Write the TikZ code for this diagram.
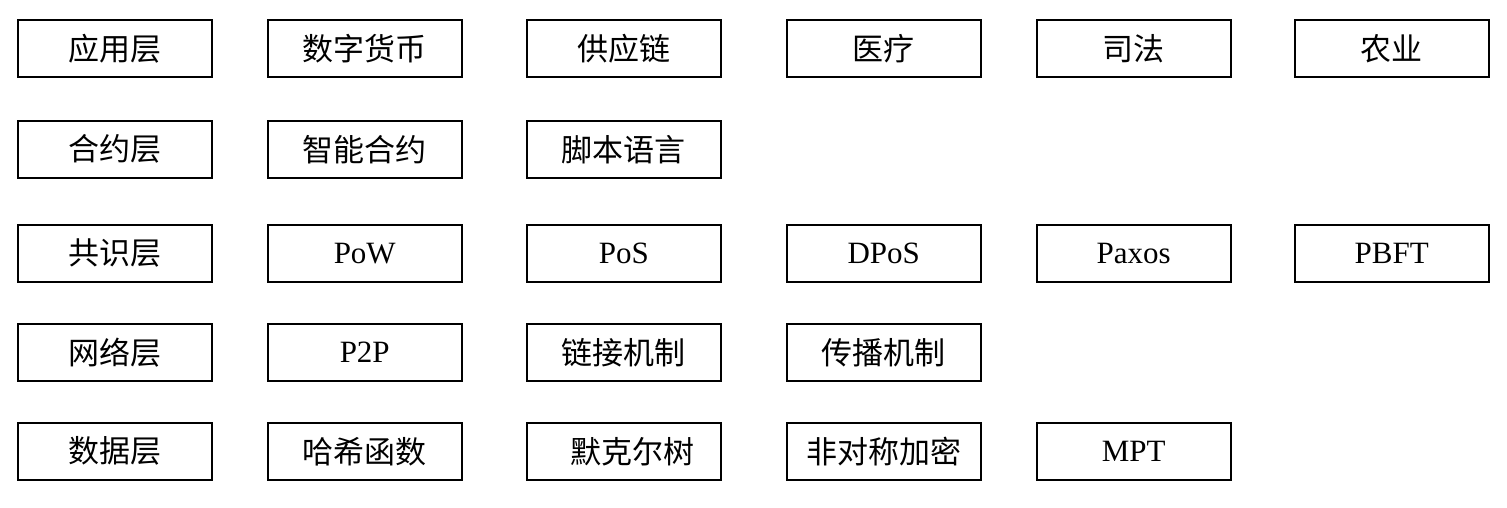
\documentclass[tikz,border=0pt]{standalone}
\usepackage{fontspec}
\setmainfont{Liberation Serif}
\newfontfamily\cjk{Noto Sans CJK SC}
\begin{document}
\begin{tikzpicture}[x=1pt,y=-1pt,
  cell/.style={draw,line width=1.5pt,minimum width=194pt,minimum height=57pt,anchor=north west,inner sep=0pt,font=\fontsize{31}{34}\selectfont}]
\useasboundingbox (0,0) rectangle (1507,507);
\def\cx{{17,267,526,786,1036,1294}}
\def\ry{{19,120,224,323,422}}
\newcommand\cellat[4]{\pgfmathsetmacro\xx{\cx[#2]}\pgfmathsetmacro\yy{\ry[#1]}\node[cell] (#3) at (\xx,\yy) {#4};}
\cellat{0}{0}{a0}{\cjk 应用层}
\cellat{0}{1}{a1}{\cjk 数字货币}
\cellat{0}{2}{a2}{\cjk 供应链}
\cellat{0}{3}{a3}{\cjk 医疗}
\cellat{0}{4}{a4}{\cjk 司法}
\cellat{0}{5}{a5}{\cjk 农业}
\cellat{1}{0}{b0}{\cjk 合约层}
\cellat{1}{1}{b1}{\cjk 智能合约}
\cellat{1}{2}{b2}{\cjk 脚本语言}
\cellat{2}{0}{c0}{\cjk 共识层}
\cellat{2}{1}{c1}{PoW}
\cellat{2}{2}{c2}{PoS}
\cellat{2}{3}{c3}{DPoS}
\cellat{2}{4}{c4}{Paxos}
\cellat{2}{5}{c5}{PBFT}
\cellat{3}{0}{d0}{\cjk 网络层}
\cellat{3}{1}{d1}{P2P}
\cellat{3}{2}{d2}{\cjk 链接机制}
\cellat{3}{3}{d3}{\cjk 传播机制}
\cellat{4}{0}{e0}{\cjk 数据层}
\cellat{4}{1}{e1}{\cjk 哈希函数}
\cellat{4}{2}{e2}{\hspace{18pt}\cjk 默克尔树}
\cellat{4}{3}{e3}{\cjk 非对称加密}
\cellat{4}{4}{e4}{MPT}
\end{tikzpicture}
\end{document}
